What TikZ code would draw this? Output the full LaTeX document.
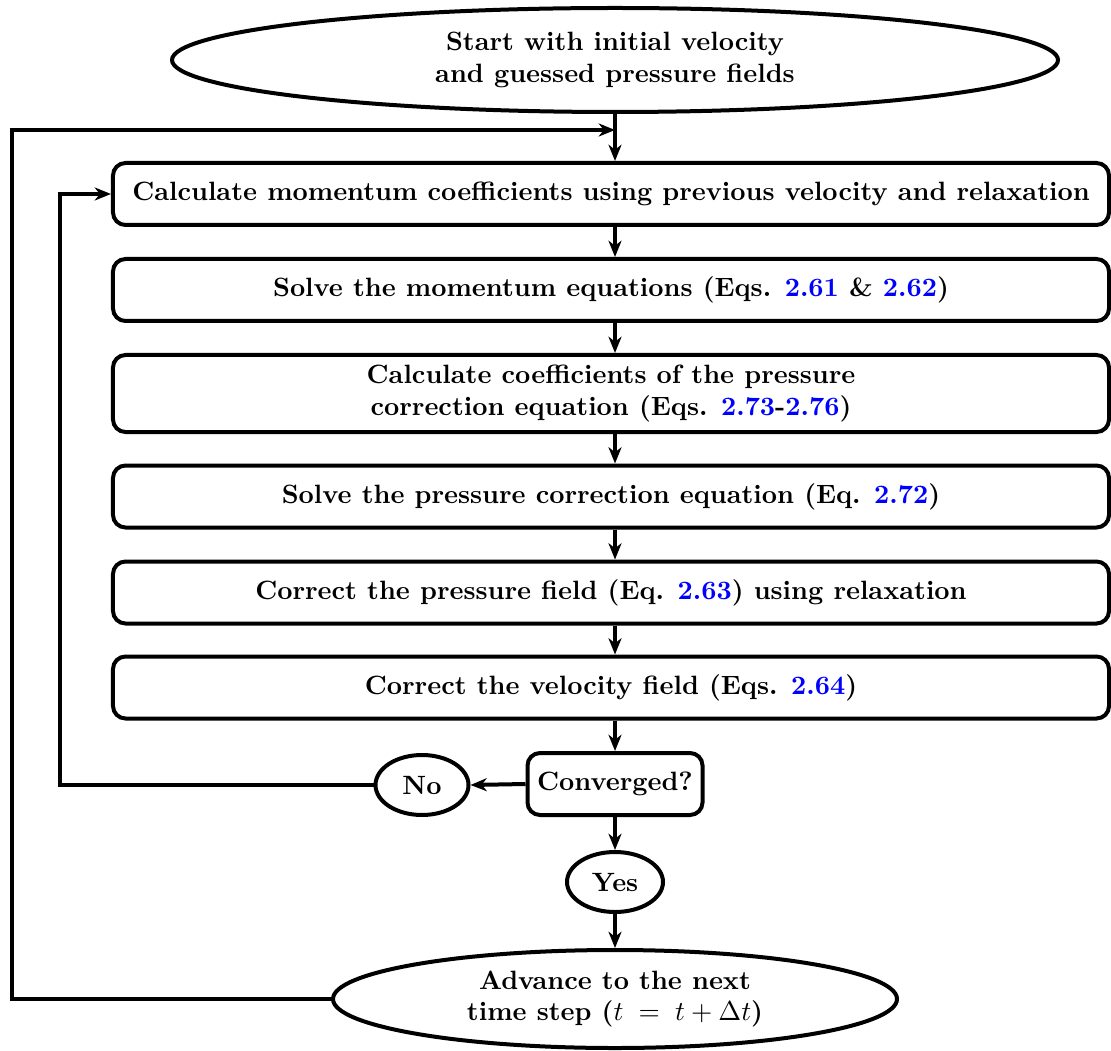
\documentclass[tikz,border=0pt]{standalone}
\usetikzlibrary{shapes.geometric,arrows.meta}
\begin{document}
\begin{tikzpicture}[x=0.4pt,y=-0.4pt,
  every node/.style={font=\fontsize{10.6}{12.6}\selectfont\bfseries},
  proc/.style={draw, line width=1.6pt, rounded corners=5pt, minimum width=398.4pt, minimum height=24.8pt, inner sep=0pt, align=center},
  term/.style={draw, ellipse, line width=1.6pt, inner sep=0pt, align=center},
  arr/.style={-{Stealth[length=6.5pt,width=5.2pt,inset=2pt]}, line width=1.6pt},
  ln/.style={line width=1.6pt}]
\useasboundingbox (0,0) rectangle (1111,1051);
\newcommand{\eqref}[1]{\textcolor{blue}{#1}}
\node[term, minimum width=354.4pt, minimum height=41.6pt] (start) at (615,60) {Start with initial velocity\\and guessed pressure fields};
\node[proc] (b1) at (611,194) {Calculate momentum coefficients using previous velocity and relaxation};
\node[proc] (b2) at (611,290) {Solve the momentum equations (Eqs. \eqref{2.61} \& \eqref{2.62})};
\node[proc, minimum height=30.8pt] (b3) at (611,393.5) {Calculate coefficients of the pressure\\correction equation (Eqs. \eqref{2.73}-\eqref{2.76})};
\node[proc] (b4) at (611,496.5) {Solve the pressure correction equation (Eq. \eqref{2.72})};
\node[proc] (b5) at (611,592.5) {Correct the pressure field (Eq. \eqref{2.63}) using relaxation};
\node[proc] (b6) at (611,687.5) {Correct the velocity field (Eqs. \eqref{2.64})};
\node[draw, line width=1.6pt, rounded corners=5pt, minimum width=70pt, minimum height=24.8pt, inner sep=0pt] (conv) at (615,784) {Converged?};
\node[term, minimum width=37.2pt, minimum height=24pt] (no) at (422,785) {No};
\node[term, minimum width=38.4pt, minimum height=24pt] (yes) at (615,882) {Yes};
\node[term, minimum width=225.6pt, minimum height=39.2pt] (adv) at (615,999) {Advance to the next\\time step ($t\;=\;t+\Delta t$)};
\coordinate (col) at (615,0);
\coordinate (outer1) at (12,999);
\coordinate (outer2) at (12,130);
\coordinate (join) at (615,130);
\coordinate (inner1) at (60,785);
\coordinate (inner2) at (60,194);
\draw[arr] (start.south) -- (b1.north -| col);
\draw[arr] (b1.south -| col) -- (b2.north -| col);
\draw[arr] (b2.south -| col) -- (b3.north -| col);
\draw[arr] (b3.south -| col) -- (b4.north -| col);
\draw[arr] (b4.south -| col) -- (b5.north -| col);
\draw[arr] (b5.south -| col) -- (b6.north -| col);
\draw[arr] (b6.south -| col) -- (conv.north);
\draw[arr] (conv.west) -- (no.east);
\draw[arr] (conv.south) -- (yes.north);
\draw[arr] (yes.south) -- (adv.north);
\draw[arr] (no.west) -- (inner1) -- (inner2) -- (b1.west);
\draw[arr] (adv.west) -- (outer1) -- (outer2) -- (join);
\end{tikzpicture}
\end{document}
